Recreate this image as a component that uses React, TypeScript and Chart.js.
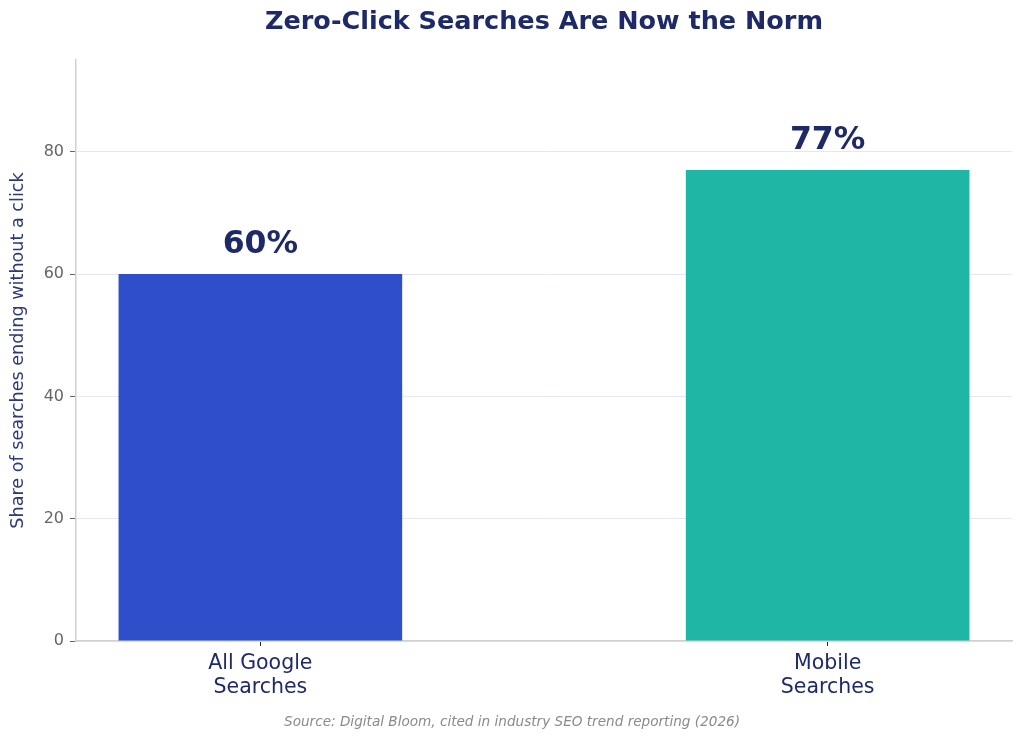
import { useEffect, useRef } from "react"
import { Chart, registerables } from "chart.js"

Chart.register(...registerables)

const categories = [["All Google", "Searches"], ["Mobile", "Searches"]]
const shares = [60, 77]
const barColors = ["#2f4ec9", "#20b6a6"]
const yTicks = [0, 20, 40, 60, 80]

const NAVY = "#1e2a68"
const FONT = "'DejaVu Sans', sans-serif"

// title, value labels and the source note
const textPlugin = {
  id: "textPlugin",
  afterDraw(chart: any) {
    const { ctx, chartArea } = chart
    ctx.save()
    ctx.fillStyle = NAVY
    ctx.textAlign = "center"
    ctx.textBaseline = "middle"
    ctx.font = `bold 25.5px ${FONT}`
    ctx.fillText("Zero-Click Searches Are Now the Norm", (chartArea.left + chartArea.right) / 2, 22)

    const meta = chart.getDatasetMeta(0)
    ctx.font = `bold 31.5px ${FONT}`
    ctx.textBaseline = "alphabetic"
    meta.data.forEach((bar: any, i: number) => {
      ctx.fillText(`${shares[i]}%`, bar.x, bar.y - 21)
    })

    ctx.fillStyle = "#8a8a8a"
    ctx.font = `italic 13.6px ${FONT}`
    ctx.textBaseline = "middle"
    ctx.fillText(
      "Source: Digital Bloom, cited in industry SEO trend reporting (2026)",
      chart.width / 2,
      722
    )
    ctx.restore()
  },
}

export default function App() {
  const chartRef = useRef<HTMLCanvasElement>(null)
  const chartInstance = useRef<Chart | null>(null)

  useEffect(() => {
    document.body.style.margin = "0"
    if (!chartRef.current) return
    if (chartInstance.current) chartInstance.current.destroy()
    const ctx = chartRef.current.getContext("2d")
    if (!ctx) return

    chartInstance.current = new Chart(ctx, {
      type: "bar",
      data: {
        datasets: [
          {
            data: shares.map((v, i) => ({ x: i, y: v })),
            backgroundColor: barColors,
            barPercentage: 0.5,
            categoryPercentage: 1,
          },
        ],
      },
      options: {
        animation: false,
        responsive: false,
        layout: { padding: { top: 60, right: 12, left: 0, bottom: 0 } },
        plugins: {
          legend: { display: false },
          tooltip: { enabled: false },
        },
        scales: {
          x: {
            type: "linear",
            min: -0.325,
            max: 1.325,
            offset: false,
            afterBuildTicks: (scale: any) => {
              scale.ticks = categories.map((_, i) => ({ value: i }))
            },
            afterFit: (scale: any) => {
              scale.height = 101
            },
            grid: {
              display: true,
              offset: false,
              drawOnChartArea: false,
              tickColor: NAVY,
              tickLength: 5,
            },
            border: { display: true, color: "#cfcfd4", width: 1.5 },
            ticks: {
              color: NAVY,
              padding: 6,
              maxRotation: 0,
              font: { family: FONT, size: 20.5, lineHeight: 1.15 },
              callback: (v: any) => categories[Number(v)] ?? "",
            },
          },
          y: {
            min: 0,
            max: 95,
            afterBuildTicks: (scale: any) => {
              scale.ticks = yTicks.map((v) => ({ value: v }))
            },
            afterFit: (scale: any) => {
              scale.width = 76
            },
            grid: {
              color: "#e6e7f4",
              tickColor: "#666666",
              tickLength: 6,
            },
            border: { display: true, color: "#cfcfd4", width: 1.5 },
            ticks: {
              color: "#666666",
              padding: 6,
              font: { family: FONT, size: 16 },
            },
            title: {
              display: true,
              text: "Share of searches ending without a click",
              color: "#2d3a7a",
              padding: { top: 8, bottom: 0 },
              font: { family: FONT, size: 17.6 },
            },
          },
        },
      },
      plugins: [textPlugin],
    })

    return () => {
      if (chartInstance.current) chartInstance.current.destroy()
    }
  }, [])

  return (
    <div style={{ width: 1024, height: 742, background: "#fff" }}>
      <canvas ref={chartRef} width={1024} height={742} />
    </div>
  )
}
